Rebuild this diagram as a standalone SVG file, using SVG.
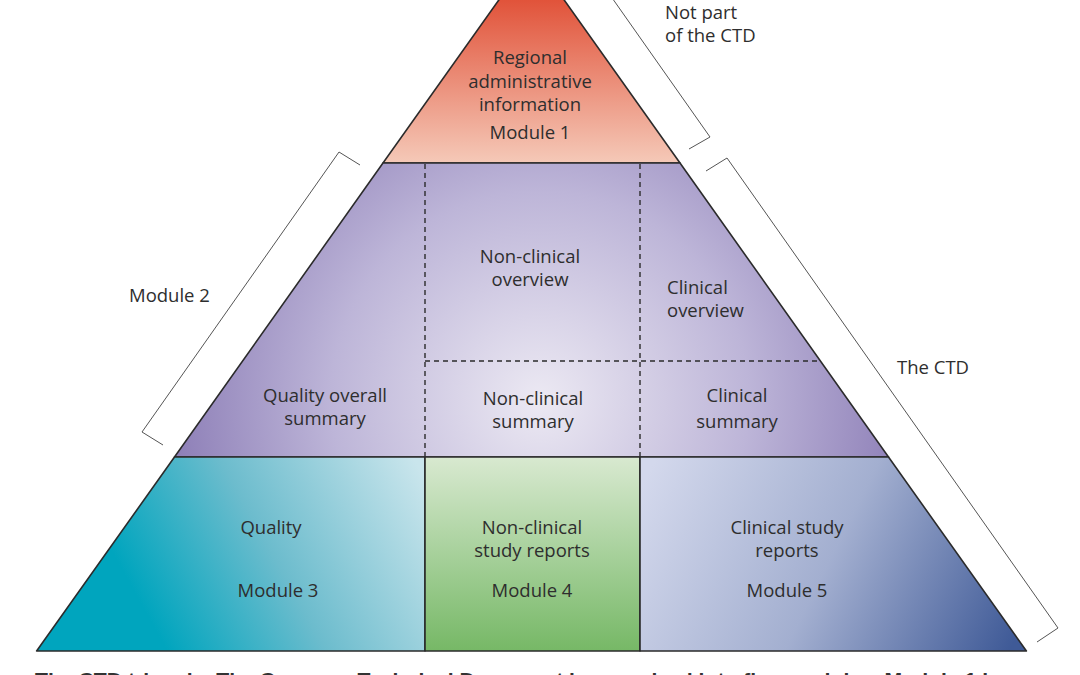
<svg xmlns="http://www.w3.org/2000/svg" width="1080" height="675" viewBox="0 0 1080 675">
<defs>
<linearGradient id="g1" gradientUnits="userSpaceOnUse" x1="0" y1="0" x2="0" y2="163"><stop offset="0" stop-color="#e1533a"/><stop offset="1" stop-color="#f5c9b8"/></linearGradient>
<radialGradient id="g2" gradientUnits="userSpaceOnUse" cx="540" cy="400" r="380"><stop offset="0" stop-color="#ece9f3"/><stop offset="0.55" stop-color="#bdb5d8"/><stop offset="1" stop-color="#8a7bb5"/></radialGradient>
<linearGradient id="g3" gradientUnits="userSpaceOnUse" x1="150" y1="620" x2="420" y2="470"><stop offset="0" stop-color="#00a5be"/><stop offset="0.45" stop-color="#6cbccd"/><stop offset="1" stop-color="#c9e5ec"/></linearGradient>
<linearGradient id="g4" gradientUnits="userSpaceOnUse" x1="0" y1="457" x2="0" y2="651"><stop offset="0" stop-color="#d8e9d0"/><stop offset="1" stop-color="#76b866"/></linearGradient>
<linearGradient id="g5" gradientUnits="userSpaceOnUse" x1="650" y1="470" x2="1010" y2="650"><stop offset="0" stop-color="#d3d8ec"/><stop offset="0.5" stop-color="#a3afd0"/><stop offset="1" stop-color="#3f5a97"/></linearGradient>
<style>
.shape{stroke:#2b2b2b;stroke-width:1.6;stroke-linejoin:round}
.dash{stroke:#2b2b2b;stroke-width:1.4;stroke-dasharray:5 4;fill:none}
.br{stroke:#555;stroke-width:1;fill:none}
.t{font-family:"Open Sans","Noto Sans",sans-serif;font-size:18.5px;fill:#2e2e2e}
.c{text-anchor:middle}
.cap{font-family:"Liberation Sans",Arial,sans-serif;font-size:19px;font-weight:bold;fill:#333}
</style>
</defs>
<g id="module1">
<polygon class="shape" fill="url(#g1)" points="531.5,-46 383,163 680,163"/>
<text class="t c" x="530" y="64">Regional</text>
<text class="t c" x="530" y="87.5">administrative</text>
<text class="t c" x="530" y="111">information</text>
<text class="t c" x="530" y="139">Module 1</text>
</g>
<g id="module2">
<polygon class="shape" fill="url(#g2)" points="383,163 680,163 888.5,457 174.5,457"/>
<text class="t c" x="530" y="263">Non-clinical</text>
<text class="t c" x="530" y="286">overview</text>
<text class="t" x="667" y="294">Clinical</text>
<text class="t" x="667" y="317">overview</text>
<text class="t c" x="325" y="402">Quality overall</text>
<text class="t c" x="325" y="425">summary</text>
<text class="t c" x="533" y="405">Non-clinical</text>
<text class="t c" x="533" y="428">summary</text>
<text class="t c" x="737" y="402">Clinical</text>
<text class="t c" x="737" y="428">summary</text>
</g>
<g id="module3">
<polygon class="shape" fill="url(#g3)" points="174.5,457 425,457 425,651 36.6,651"/>
<text class="t c" x="271" y="534">Quality</text>
<text class="t c" x="278" y="597">Module 3</text>
</g>
<g id="module4">
<polygon class="shape" fill="url(#g4)" points="425,457 640,457 640,651 425,651"/>
<text class="t c" x="532" y="534">Non-clinical</text>
<text class="t c" x="532" y="557">study reports</text>
<text class="t c" x="532" y="597">Module 4</text>
</g>
<g id="module5">
<polygon class="shape" fill="url(#g5)" points="640,457 888.5,457 1026.4,651 640,651"/>
<text class="t c" x="787" y="534">Clinical study</text>
<text class="t c" x="787" y="557">reports</text>
<text class="t c" x="787" y="597">Module 5</text>
</g>
<g id="dividers">
<line class="dash" x1="425" y1="164" x2="425" y2="456"/>
<line class="dash" x1="640" y1="164" x2="640" y2="456"/>
<line class="dash" x1="425" y1="361" x2="820" y2="361"/>
</g>
<g id="connectors">
<polyline class="br" points="603,-15 710,137 689,149"/>
<polyline class="br" points="706,171 727,158 1058,628 1037,642"/>
<polyline class="br" points="360,165 339,152 142,432 163,445"/>
</g>
<g id="labels">
<text class="t" x="665" y="18.5">Not part</text>
<text class="t" x="665" y="41.5">of the CTD</text>
<text class="t" x="129" y="302">Module 2</text>
<text class="t" x="897" y="374">The CTD</text>
</g>
<text class="cap" x="35" y="686" textLength="965" lengthAdjust="spacingAndGlyphs">The CTD triangle. The Common Technical Document is organized into five modules. Module 1 is</text>
</svg>
